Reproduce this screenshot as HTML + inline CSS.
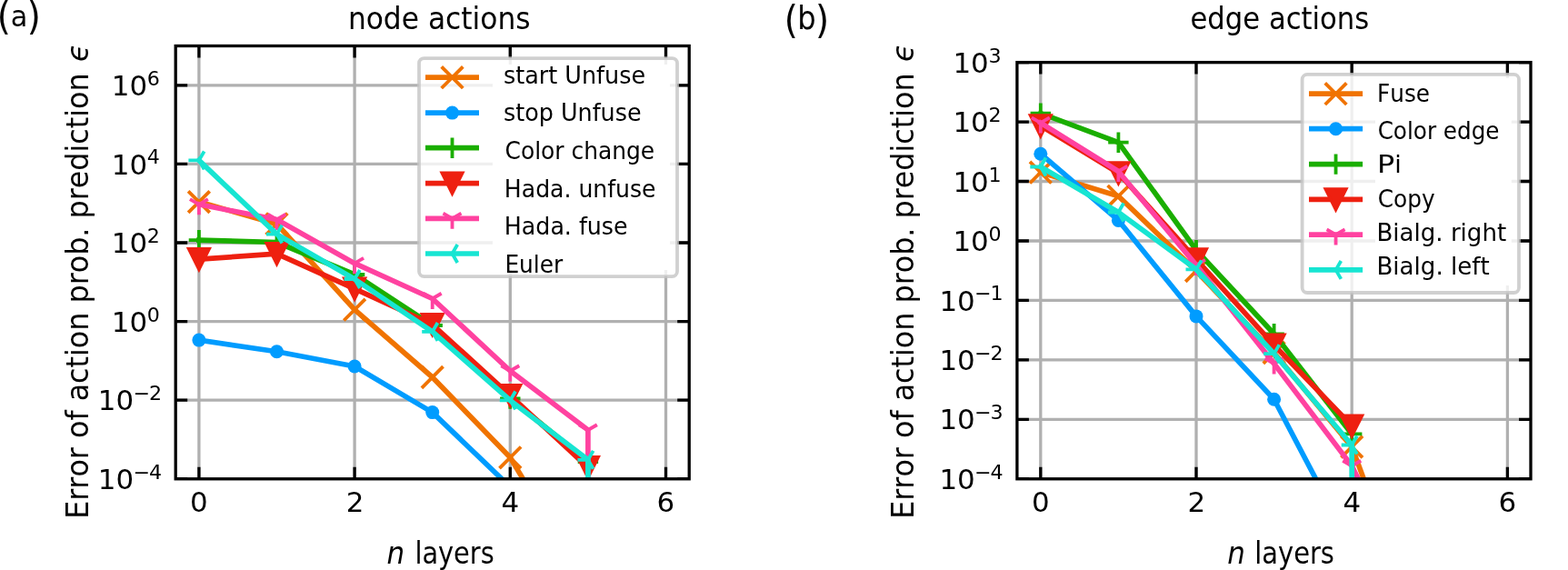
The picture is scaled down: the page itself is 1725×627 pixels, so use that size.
<!DOCTYPE html><html><head><meta charset="utf-8"><title>node and edge actions</title><style>html,body{margin:0;padding:0;background:#fff;overflow:hidden}svg{display:block}text{font-family:"DejaVu Sans","Liberation Sans",sans-serif;font-stretch:condensed;font-kerning:none;fill:#000}</style></head><body>
<svg width="1725" height="627" viewBox="0 0 1725 627">
<rect width="1725" height="627" fill="#fff"/>
<clipPath id="clipA"><rect x="193.2" y="50.5" width="565" height="476.3"/></clipPath>
<g clip-path="url(#clipA)"><path d="M218.9 50.5V526.8M390.1 50.5V526.8M561.3 50.5V526.8M732.5 50.5V526.8M193.2 93.8H758.2M193.2 180.4H758.2M193.2 267H758.2M193.2 353.6H758.2M193.2 440.2H758.2M193.2 526.8H758.2" stroke="#b0b0b0" stroke-width="3.3" fill="none"/>
<path d="M218.9 526.8V513.8M218.9 50.5V63.5M390.1 526.8V513.8M390.1 50.5V63.5M561.3 526.8V513.8M561.3 50.5V63.5M732.5 526.8V513.8M732.5 50.5V63.5M193.2 93.8H206.2M758.2 93.8H745.2M193.2 180.4H206.2M758.2 180.4H745.2M193.2 267H206.2M758.2 267H745.2M193.2 353.6H206.2M758.2 353.6H745.2M193.2 440.2H206.2M758.2 440.2H745.2M193.2 526.8H206.2M758.2 526.8H745.2" stroke="#000" stroke-width="3.3" fill="none"/>
<polyline points="218.9,222.1 304.5,246.4 390.1,340.7 475.7,415 561.3,503.3 646.9,646" fill="none" stroke="#f07300" stroke-width="5.7" stroke-linejoin="round" stroke-linecap="square"/>
<path d="M207.1 210.3L230.7 233.9M207.1 233.9L230.7 210.3" stroke="#f07300" stroke-width="3.8" fill="none" stroke-linecap="butt"/>
<path d="M292.7 234.6L316.3 258.2M292.7 258.2L316.3 234.6" stroke="#f07300" stroke-width="3.8" fill="none" stroke-linecap="butt"/>
<path d="M378.3 328.9L401.9 352.5M378.3 352.5L401.9 328.9" stroke="#f07300" stroke-width="3.8" fill="none" stroke-linecap="butt"/>
<path d="M463.9 403.2L487.5 426.8M463.9 426.8L487.5 403.2" stroke="#f07300" stroke-width="3.8" fill="none" stroke-linecap="butt"/>
<path d="M549.5 491.5L573.1 515.1M549.5 515.1L573.1 491.5" stroke="#f07300" stroke-width="3.8" fill="none" stroke-linecap="butt"/>
<polyline points="218.9,374.1 304.5,386.7 390.1,403 475.7,453.6 561.3,535.7" fill="none" stroke="#009cff" stroke-width="5.7" stroke-linejoin="round" stroke-linecap="square"/>
<circle cx="218.9" cy="374.1" r="7.5" fill="#009cff"/>
<circle cx="304.5" cy="386.7" r="7.5" fill="#009cff"/>
<circle cx="390.1" cy="403" r="7.5" fill="#009cff"/>
<circle cx="475.7" cy="453.6" r="7.5" fill="#009cff"/>
<polyline points="218.9,264.2 304.5,266.5 390.1,302 475.7,358 561.3,438.5 646.9,508" fill="none" stroke="#1aae00" stroke-width="5.7" stroke-linejoin="round" stroke-linecap="square"/>
<path d="M207.7 264.2L230.1 264.2M218.9 253L218.9 275.4" stroke="#1aae00" stroke-width="3.8" fill="none" stroke-linecap="butt"/>
<path d="M293.3 266.5L315.7 266.5M304.5 255.3L304.5 277.7" stroke="#1aae00" stroke-width="3.8" fill="none" stroke-linecap="butt"/>
<path d="M378.9 302L401.3 302M390.1 290.8L390.1 313.2" stroke="#1aae00" stroke-width="3.8" fill="none" stroke-linecap="butt"/>
<path d="M464.5 358L486.9 358M475.7 346.8L475.7 369.2" stroke="#1aae00" stroke-width="3.8" fill="none" stroke-linecap="butt"/>
<path d="M550.1 438.5L572.5 438.5M561.3 427.3L561.3 449.7" stroke="#1aae00" stroke-width="3.8" fill="none" stroke-linecap="butt"/>
<path d="M635.7 508L658.1 508M646.9 496.8L646.9 519.2" stroke="#1aae00" stroke-width="3.8" fill="none" stroke-linecap="butt"/>
<polyline points="218.9,285.2 304.5,279.1 390.1,317.6 475.7,357 561.3,435 646.9,514.2" fill="none" stroke="#ee2010" stroke-width="5.7" stroke-linejoin="round" stroke-linecap="square"/>
<path d="M207.4 273.7L230.4 273.7L218.9 296.7Z" fill="#ee2010" stroke="#ee2010" stroke-width="3.2" stroke-linejoin="miter"/>
<path d="M293 267.6L316 267.6L304.5 290.6Z" fill="#ee2010" stroke="#ee2010" stroke-width="3.2" stroke-linejoin="miter"/>
<path d="M378.6 306.1L401.6 306.1L390.1 329.1Z" fill="#ee2010" stroke="#ee2010" stroke-width="3.2" stroke-linejoin="miter"/>
<path d="M464.2 345.5L487.2 345.5L475.7 368.5Z" fill="#ee2010" stroke="#ee2010" stroke-width="3.2" stroke-linejoin="miter"/>
<path d="M549.8 423.5L572.8 423.5L561.3 446.5Z" fill="#ee2010" stroke="#ee2010" stroke-width="3.2" stroke-linejoin="miter"/>
<path d="M635.4 502.7L658.4 502.7L646.9 525.7Z" fill="#ee2010" stroke="#ee2010" stroke-width="3.2" stroke-linejoin="miter"/>
<polyline points="218.9,224.8 304.5,241.5 390.1,289.7 475.7,328.5 561.3,408 646.9,473 646.9,2000" fill="none" stroke="#ff42a0" stroke-width="5.7" stroke-linejoin="round" stroke-linecap="square"/>
<path d="M218.9 224.8L218.9 236.3M218.9 224.8L208.94 219.05M218.9 224.8L228.86 219.05" stroke="#ff42a0" stroke-width="3.8" fill="none" stroke-linecap="butt"/>
<path d="M304.5 241.5L304.5 253M304.5 241.5L294.54 235.75M304.5 241.5L314.46 235.75" stroke="#ff42a0" stroke-width="3.8" fill="none" stroke-linecap="butt"/>
<path d="M390.1 289.7L390.1 301.2M390.1 289.7L380.14 283.95M390.1 289.7L400.06 283.95" stroke="#ff42a0" stroke-width="3.8" fill="none" stroke-linecap="butt"/>
<path d="M475.7 328.5L475.7 340M475.7 328.5L465.74 322.75M475.7 328.5L485.66 322.75" stroke="#ff42a0" stroke-width="3.8" fill="none" stroke-linecap="butt"/>
<path d="M561.3 408L561.3 419.5M561.3 408L551.34 402.25M561.3 408L571.26 402.25" stroke="#ff42a0" stroke-width="3.8" fill="none" stroke-linecap="butt"/>
<path d="M646.9 473L646.9 484.5M646.9 473L636.94 467.25M646.9 473L656.86 467.25" stroke="#ff42a0" stroke-width="3.8" fill="none" stroke-linecap="butt"/>
<polyline points="218.9,176.4 304.5,257.6 390.1,307 475.7,364.9 561.3,440.4 646.9,505.8 646.9,2000" fill="none" stroke="#17e5d2" stroke-width="5.7" stroke-linejoin="round" stroke-linecap="square"/>
<path d="M218.9 176.4L207.4 176.4M218.9 176.4L224.65 166.44M218.9 176.4L224.65 186.36" stroke="#17e5d2" stroke-width="3.8" fill="none" stroke-linecap="butt"/>
<path d="M304.5 257.6L293 257.6M304.5 257.6L310.25 247.64M304.5 257.6L310.25 267.56" stroke="#17e5d2" stroke-width="3.8" fill="none" stroke-linecap="butt"/>
<path d="M390.1 307L378.6 307M390.1 307L395.85 297.04M390.1 307L395.85 316.96" stroke="#17e5d2" stroke-width="3.8" fill="none" stroke-linecap="butt"/>
<path d="M475.7 364.9L464.2 364.9M475.7 364.9L481.45 354.94M475.7 364.9L481.45 374.86" stroke="#17e5d2" stroke-width="3.8" fill="none" stroke-linecap="butt"/>
<path d="M561.3 440.4L549.8 440.4M561.3 440.4L567.05 430.44M561.3 440.4L567.05 450.36" stroke="#17e5d2" stroke-width="3.8" fill="none" stroke-linecap="butt"/>
<path d="M646.9 505.8L635.4 505.8M646.9 505.8L652.65 495.84M646.9 505.8L652.65 515.76" stroke="#17e5d2" stroke-width="3.8" fill="none" stroke-linecap="butt"/>
</g>
<rect x="193.2" y="50.5" width="565" height="476.3" fill="none" stroke="#000" stroke-width="3.3" stroke-linejoin="miter"/>
<rect x="461" y="64.1" width="284" height="240" rx="5.5" ry="5.5" fill="#fff" fill-opacity="0.8"/>
<rect x="541.9" y="71" width="195.1" height="226" fill="#fff"/>
<rect x="461" y="64.1" width="284" height="240" rx="5.5" ry="5.5" fill="none" stroke="#c4c4c4" stroke-opacity="0.8" stroke-width="3.8"/>
<path d="M468 85.2H527" stroke="#f07300" stroke-width="5.7"/>
<path d="M485.7 73.4L509.3 97M485.7 97L509.3 73.4" stroke="#f07300" stroke-width="3.8" fill="none" stroke-linecap="butt"/>
<text x="554.09" y="91.6" font-size="27.2" textLength="155.99" lengthAdjust="spacingAndGlyphs">start Unfuse</text>
<path d="M468 124.1H527" stroke="#009cff" stroke-width="5.7"/>
<circle cx="497.5" cy="124.1" r="7.5" fill="#009cff"/>
<text x="554.09" y="133.1" font-size="27.2" textLength="151.53" lengthAdjust="spacingAndGlyphs">stop Unfuse</text>
<path d="M468 162.7H527" stroke="#1aae00" stroke-width="5.7"/>
<path d="M486.3 162.7L508.7 162.7M497.5 151.5L497.5 173.9" stroke="#1aae00" stroke-width="3.8" fill="none" stroke-linecap="butt"/>
<text x="555.52" y="174.5" font-size="27.2" textLength="164.69" lengthAdjust="spacingAndGlyphs">Color change</text>
<path d="M468 201.6H527" stroke="#ee2010" stroke-width="5.7"/>
<path d="M486 190.1L509 190.1L497.5 213.1Z" fill="#ee2010" stroke="#ee2010" stroke-width="3.2" stroke-linejoin="miter"/>
<text x="554.89" y="217.3" font-size="27.2" textLength="166.61" lengthAdjust="spacingAndGlyphs">Hada. unfuse</text>
<path d="M468 240.3H527" stroke="#ff42a0" stroke-width="5.7"/>
<path d="M497.5 240.3L497.5 251.8M497.5 240.3L487.54 234.55M497.5 240.3L507.46 234.55" stroke="#ff42a0" stroke-width="3.8" fill="none" stroke-linecap="butt"/>
<text x="554.87" y="258.4" font-size="27.2" textLength="135.66" lengthAdjust="spacingAndGlyphs">Hada. fuse</text>
<path d="M468 279H527" stroke="#17e5d2" stroke-width="5.7"/>
<path d="M497.5 279L486 279M497.5 279L503.25 269.04M497.5 279L503.25 288.96" stroke="#17e5d2" stroke-width="3.8" fill="none" stroke-linecap="butt"/>
<text x="555.41" y="299.8" font-size="27.2" textLength="63.84" lengthAdjust="spacingAndGlyphs">Euler</text>
<clipPath id="clipB"><rect x="1118.9" y="68.6" width="565.1" height="458.2"/></clipPath>
<g clip-path="url(#clipB)"><path d="M1144.8 68.6V526.8M1316 68.6V526.8M1487.2 68.6V526.8M1658.4 68.6V526.8M1118.9 68.6H1684M1118.9 134.06H1684M1118.9 199.52H1684M1118.9 264.98H1684M1118.9 330.44H1684M1118.9 395.9H1684M1118.9 461.36H1684M1118.9 526.82H1684" stroke="#b0b0b0" stroke-width="3.3" fill="none"/>
<path d="M1144.8 526.8V513.8M1144.8 68.6V81.6M1316 526.8V513.8M1316 68.6V81.6M1487.2 526.8V513.8M1487.2 68.6V81.6M1658.4 526.8V513.8M1658.4 68.6V81.6M1118.9 68.6H1131.9M1684 68.6H1671M1118.9 134.06H1131.9M1684 134.06H1671M1118.9 199.52H1131.9M1684 199.52H1671M1118.9 264.98H1131.9M1684 264.98H1671M1118.9 330.44H1131.9M1684 330.44H1671M1118.9 395.9H1131.9M1684 395.9H1671M1118.9 461.36H1131.9M1684 461.36H1671M1118.9 526.82H1131.9M1684 526.82H1671" stroke="#000" stroke-width="3.3" fill="none"/>
<polyline points="1144.8,189.7 1230.4,215.8 1316,298 1401.6,388 1487.2,491.5 1572.8,723" fill="none" stroke="#f07300" stroke-width="5.7" stroke-linejoin="round" stroke-linecap="square"/>
<path d="M1133 177.9L1156.6 201.5M1133 201.5L1156.6 177.9" stroke="#f07300" stroke-width="3.8" fill="none" stroke-linecap="butt"/>
<path d="M1218.6 204L1242.2 227.6M1218.6 227.6L1242.2 204" stroke="#f07300" stroke-width="3.8" fill="none" stroke-linecap="butt"/>
<path d="M1304.2 286.2L1327.8 309.8M1304.2 309.8L1327.8 286.2" stroke="#f07300" stroke-width="3.8" fill="none" stroke-linecap="butt"/>
<path d="M1389.8 376.2L1413.4 399.8M1389.8 399.8L1413.4 376.2" stroke="#f07300" stroke-width="3.8" fill="none" stroke-linecap="butt"/>
<path d="M1475.4 479.7L1499 503.3M1475.4 503.3L1499 479.7" stroke="#f07300" stroke-width="3.8" fill="none" stroke-linecap="butt"/>
<polyline points="1144.8,169.2 1230.4,242.4 1316,347.9 1401.6,439.2 1487.2,602.3" fill="none" stroke="#009cff" stroke-width="5.7" stroke-linejoin="round" stroke-linecap="square"/>
<circle cx="1144.8" cy="169.2" r="7.5" fill="#009cff"/>
<circle cx="1230.4" cy="242.4" r="7.5" fill="#009cff"/>
<circle cx="1316" cy="347.9" r="7.5" fill="#009cff"/>
<circle cx="1401.6" cy="439.2" r="7.5" fill="#009cff"/>
<polyline points="1144.8,124.7 1230.4,156.7 1316,275.1 1401.6,367.3 1487.2,477.4" fill="none" stroke="#1aae00" stroke-width="5.7" stroke-linejoin="round" stroke-linecap="square"/>
<path d="M1133.6 124.7L1156 124.7M1144.8 113.5L1144.8 135.9" stroke="#1aae00" stroke-width="3.8" fill="none" stroke-linecap="butt"/>
<path d="M1219.2 156.7L1241.6 156.7M1230.4 145.5L1230.4 167.9" stroke="#1aae00" stroke-width="3.8" fill="none" stroke-linecap="butt"/>
<path d="M1304.8 275.1L1327.2 275.1M1316 263.9L1316 286.3" stroke="#1aae00" stroke-width="3.8" fill="none" stroke-linecap="butt"/>
<path d="M1390.4 367.3L1412.8 367.3M1401.6 356.1L1401.6 378.5" stroke="#1aae00" stroke-width="3.8" fill="none" stroke-linecap="butt"/>
<path d="M1476 477.4L1498.4 477.4M1487.2 466.2L1487.2 488.6" stroke="#1aae00" stroke-width="3.8" fill="none" stroke-linecap="butt"/>
<polyline points="1144.8,138.4 1230.4,190.3 1316,285.3 1401.6,379.6 1487.2,468.5" fill="none" stroke="#ee2010" stroke-width="5.7" stroke-linejoin="round" stroke-linecap="square"/>
<path d="M1133.3 126.9L1156.3 126.9L1144.8 149.9Z" fill="#ee2010" stroke="#ee2010" stroke-width="3.2" stroke-linejoin="miter"/>
<path d="M1218.9 178.8L1241.9 178.8L1230.4 201.8Z" fill="#ee2010" stroke="#ee2010" stroke-width="3.2" stroke-linejoin="miter"/>
<path d="M1304.5 273.8L1327.5 273.8L1316 296.8Z" fill="#ee2010" stroke="#ee2010" stroke-width="3.2" stroke-linejoin="miter"/>
<path d="M1390.1 368.1L1413.1 368.1L1401.6 391.1Z" fill="#ee2010" stroke="#ee2010" stroke-width="3.2" stroke-linejoin="miter"/>
<path d="M1475.7 457L1498.7 457L1487.2 480Z" fill="#ee2010" stroke="#ee2010" stroke-width="3.2" stroke-linejoin="miter"/>
<polyline points="1144.8,135.1 1230.4,188.5 1316,291.6 1401.6,400 1487.2,512.5 1572.8,686" fill="none" stroke="#ff42a0" stroke-width="5.7" stroke-linejoin="round" stroke-linecap="square"/>
<path d="M1144.8 135.1L1144.8 146.6M1144.8 135.1L1134.84 129.35M1144.8 135.1L1154.76 129.35" stroke="#ff42a0" stroke-width="3.8" fill="none" stroke-linecap="butt"/>
<path d="M1230.4 188.5L1230.4 200M1230.4 188.5L1220.44 182.75M1230.4 188.5L1240.36 182.75" stroke="#ff42a0" stroke-width="3.8" fill="none" stroke-linecap="butt"/>
<path d="M1316 291.6L1316 303.1M1316 291.6L1306.04 285.85M1316 291.6L1325.96 285.85" stroke="#ff42a0" stroke-width="3.8" fill="none" stroke-linecap="butt"/>
<path d="M1401.6 400L1401.6 411.5M1401.6 400L1391.64 394.25M1401.6 400L1411.56 394.25" stroke="#ff42a0" stroke-width="3.8" fill="none" stroke-linecap="butt"/>
<path d="M1487.2 512.5L1487.2 524M1487.2 512.5L1477.24 506.75M1487.2 512.5L1497.16 506.75" stroke="#ff42a0" stroke-width="3.8" fill="none" stroke-linecap="butt"/>
<polyline points="1144.8,183.5 1230.4,233.5 1316,296.3 1401.6,389.1 1487.2,489.5 1487.2,2000" fill="none" stroke="#17e5d2" stroke-width="5.7" stroke-linejoin="round" stroke-linecap="square"/>
<path d="M1144.8 183.5L1133.3 183.5M1144.8 183.5L1150.55 173.54M1144.8 183.5L1150.55 193.46" stroke="#17e5d2" stroke-width="3.8" fill="none" stroke-linecap="butt"/>
<path d="M1230.4 233.5L1218.9 233.5M1230.4 233.5L1236.15 223.54M1230.4 233.5L1236.15 243.46" stroke="#17e5d2" stroke-width="3.8" fill="none" stroke-linecap="butt"/>
<path d="M1316 296.3L1304.5 296.3M1316 296.3L1321.75 286.34M1316 296.3L1321.75 306.26" stroke="#17e5d2" stroke-width="3.8" fill="none" stroke-linecap="butt"/>
<path d="M1401.6 389.1L1390.1 389.1M1401.6 389.1L1407.35 379.14M1401.6 389.1L1407.35 399.06" stroke="#17e5d2" stroke-width="3.8" fill="none" stroke-linecap="butt"/>
<path d="M1487.2 489.5L1475.7 489.5M1487.2 489.5L1492.95 479.54M1487.2 489.5L1492.95 499.46" stroke="#17e5d2" stroke-width="3.8" fill="none" stroke-linecap="butt"/>
</g>
<rect x="1118.9" y="68.6" width="565.1" height="458.2" fill="none" stroke="#000" stroke-width="3.3" stroke-linejoin="miter"/>
<rect x="1432.6" y="81.9" width="238.4" height="240.1" rx="5.5" ry="5.5" fill="#fff" fill-opacity="0.8"/>
<rect x="1513" y="86" width="149.8" height="228" fill="#fff"/>
<rect x="1432.6" y="81.9" width="238.4" height="240.1" rx="5.5" ry="5.5" fill="none" stroke="#c4c4c4" stroke-opacity="0.8" stroke-width="3.8"/>
<path d="M1440 103.2H1499.1" stroke="#f07300" stroke-width="5.7"/>
<path d="M1457.75 91.4L1481.35 115M1457.75 115L1481.35 91.4" stroke="#f07300" stroke-width="3.8" fill="none" stroke-linecap="butt"/>
<text x="1515.06" y="112.1" font-size="27.2" textLength="57.97" lengthAdjust="spacingAndGlyphs">Fuse</text>
<path d="M1440 141.7H1499.1" stroke="#009cff" stroke-width="5.7"/>
<circle cx="1469.55" cy="141.7" r="7.5" fill="#009cff"/>
<text x="1515.63" y="152.8" font-size="27.2" textLength="133.93" lengthAdjust="spacingAndGlyphs">Color edge</text>
<path d="M1440 180.6H1499.1" stroke="#1aae00" stroke-width="5.7"/>
<path d="M1458.35 180.6L1480.75 180.6M1469.55 169.4L1469.55 191.8" stroke="#1aae00" stroke-width="3.8" fill="none" stroke-linecap="butt"/>
<text x="1514.91" y="190.4" font-size="27.2" textLength="19.25" lengthAdjust="spacingAndGlyphs">P</text>
<text x="1534.25" y="190.4" font-size="27.2" textLength="7.5" lengthAdjust="spacingAndGlyphs">i</text>
<path d="M1440 219.4H1499.1" stroke="#ee2010" stroke-width="5.7"/>
<path d="M1458.05 207.9L1481.05 207.9L1469.55 230.9Z" fill="#ee2010" stroke="#ee2010" stroke-width="3.2" stroke-linejoin="miter"/>
<text x="1515.72" y="227.6" font-size="27.2" textLength="62.83" lengthAdjust="spacingAndGlyphs">Copy</text>
<path d="M1440 258.1H1499.1" stroke="#ff42a0" stroke-width="5.7"/>
<path d="M1469.55 258.1L1469.55 269.6M1469.55 258.1L1459.59 252.35M1469.55 258.1L1479.51 252.35" stroke="#ff42a0" stroke-width="3.8" fill="none" stroke-linecap="butt"/>
<text x="1514.49" y="264.6" font-size="27.2" textLength="142.63" lengthAdjust="spacingAndGlyphs">Bialg. right</text>
<path d="M1440 296.9H1499.1" stroke="#17e5d2" stroke-width="5.7"/>
<path d="M1469.55 296.9L1458.05 296.9M1469.55 296.9L1475.3 286.94M1469.55 296.9L1475.3 306.86" stroke="#17e5d2" stroke-width="3.8" fill="none" stroke-linecap="butt"/>
<text x="1514.48" y="301.6" font-size="27.2" textLength="124.24" lengthAdjust="spacingAndGlyphs">Bialg. left</text>
<text x="122.8" y="104.9" font-size="30" textLength="39.31" lengthAdjust="spacingAndGlyphs">10</text>
<text x="161.8" y="93.8" font-size="21.5" textLength="14.09" lengthAdjust="spacingAndGlyphs">6</text>
<text x="122.8" y="191.5" font-size="30" textLength="39.31" lengthAdjust="spacingAndGlyphs">10</text>
<text x="161.8" y="180.4" font-size="21.5" textLength="14.09" lengthAdjust="spacingAndGlyphs">4</text>
<text x="122.8" y="278.1" font-size="30" textLength="39.31" lengthAdjust="spacingAndGlyphs">10</text>
<text x="161.8" y="267" font-size="21.5" textLength="14.09" lengthAdjust="spacingAndGlyphs">2</text>
<text x="122.8" y="364.7" font-size="30" textLength="39.31" lengthAdjust="spacingAndGlyphs">10</text>
<text x="161.8" y="353.6" font-size="21.5" textLength="14.09" lengthAdjust="spacingAndGlyphs">0</text>
<text x="107.8" y="451.3" font-size="30" textLength="39.31" lengthAdjust="spacingAndGlyphs">10</text>
<text x="146.5" y="440.2" font-size="21.5" textLength="18.56" lengthAdjust="spacingAndGlyphs">−</text>
<text x="164" y="440.2" font-size="21.5" textLength="14.09" lengthAdjust="spacingAndGlyphs">2</text>
<text x="107.8" y="537.9" font-size="30" textLength="39.31" lengthAdjust="spacingAndGlyphs">10</text>
<text x="146.5" y="526.8" font-size="21.5" textLength="18.56" lengthAdjust="spacingAndGlyphs">−</text>
<text x="164" y="526.8" font-size="21.5" textLength="14.09" lengthAdjust="spacingAndGlyphs">4</text>
<text x="1048.4" y="79.7" font-size="30" textLength="39.31" lengthAdjust="spacingAndGlyphs">10</text>
<text x="1087.4" y="68.6" font-size="21.5" textLength="14.09" lengthAdjust="spacingAndGlyphs">3</text>
<text x="1048.4" y="145.16" font-size="30" textLength="39.31" lengthAdjust="spacingAndGlyphs">10</text>
<text x="1087.4" y="134.06" font-size="21.5" textLength="14.09" lengthAdjust="spacingAndGlyphs">2</text>
<text x="1048.4" y="210.62" font-size="30" textLength="39.31" lengthAdjust="spacingAndGlyphs">10</text>
<text x="1087.4" y="199.52" font-size="21.5" textLength="14.09" lengthAdjust="spacingAndGlyphs">1</text>
<text x="1048.4" y="276.08" font-size="30" textLength="39.31" lengthAdjust="spacingAndGlyphs">10</text>
<text x="1087.4" y="264.98" font-size="21.5" textLength="14.09" lengthAdjust="spacingAndGlyphs">0</text>
<text x="1033.4" y="341.54" font-size="30" textLength="39.31" lengthAdjust="spacingAndGlyphs">10</text>
<text x="1072.1" y="330.44" font-size="21.5" textLength="18.56" lengthAdjust="spacingAndGlyphs">−</text>
<text x="1089.6" y="330.44" font-size="21.5" textLength="14.09" lengthAdjust="spacingAndGlyphs">1</text>
<text x="1033.4" y="407" font-size="30" textLength="39.31" lengthAdjust="spacingAndGlyphs">10</text>
<text x="1072.1" y="395.9" font-size="21.5" textLength="18.56" lengthAdjust="spacingAndGlyphs">−</text>
<text x="1089.6" y="395.9" font-size="21.5" textLength="14.09" lengthAdjust="spacingAndGlyphs">2</text>
<text x="1033.4" y="472.46" font-size="30" textLength="39.31" lengthAdjust="spacingAndGlyphs">10</text>
<text x="1072.1" y="461.36" font-size="21.5" textLength="18.56" lengthAdjust="spacingAndGlyphs">−</text>
<text x="1089.6" y="461.36" font-size="21.5" textLength="14.09" lengthAdjust="spacingAndGlyphs">3</text>
<text x="1033.4" y="537.92" font-size="30" textLength="39.31" lengthAdjust="spacingAndGlyphs">10</text>
<text x="1072.1" y="526.82" font-size="21.5" textLength="18.56" lengthAdjust="spacingAndGlyphs">−</text>
<text x="1089.6" y="526.82" font-size="21.5" textLength="14.09" lengthAdjust="spacingAndGlyphs">4</text>
<text x="209.02" y="563.4" font-size="30" textLength="19.66" lengthAdjust="spacingAndGlyphs">0</text>
<text x="380.65" y="563.4" font-size="30" textLength="19.66" lengthAdjust="spacingAndGlyphs">2</text>
<text x="551.6" y="563.4" font-size="30" textLength="19.66" lengthAdjust="spacingAndGlyphs">4</text>
<text x="722.62" y="563.4" font-size="30" textLength="19.66" lengthAdjust="spacingAndGlyphs">6</text>
<text x="1134.92" y="563.4" font-size="30" textLength="19.66" lengthAdjust="spacingAndGlyphs">0</text>
<text x="1306.55" y="563.4" font-size="30" textLength="19.66" lengthAdjust="spacingAndGlyphs">2</text>
<text x="1477.5" y="563.4" font-size="30" textLength="19.66" lengthAdjust="spacingAndGlyphs">4</text>
<text x="1648.52" y="563.4" font-size="30" textLength="19.66" lengthAdjust="spacingAndGlyphs">6</text>
<text x="382.92" y="32" font-size="34.3" textLength="200.62" lengthAdjust="spacingAndGlyphs">node actions</text>
<text x="1309.5" y="31.6" font-size="34.3" textLength="196.69" lengthAdjust="spacingAndGlyphs">edge actions</text>
<text x="-3.18" y="32.8" font-size="43" textLength="15.1" lengthAdjust="spacingAndGlyphs">(</text>
<text x="11.74" y="28.5" font-size="32" textLength="18.6" lengthAdjust="spacingAndGlyphs">a</text>
<text x="29.68" y="32.8" font-size="43" textLength="15.1" lengthAdjust="spacingAndGlyphs">)</text>
<text x="862.82" y="36.9" font-size="43" textLength="15.1" lengthAdjust="spacingAndGlyphs">(</text>
<text x="877.15" y="32.3" font-size="35" textLength="20.39" lengthAdjust="spacingAndGlyphs">b</text>
<text x="897.08" y="36.9" font-size="43" textLength="15.1" lengthAdjust="spacingAndGlyphs">)</text>
<text x="425.47" y="619.6" font-size="34" textLength="19.6" lengthAdjust="spacingAndGlyphs" font-style="italic">n</text>
<text x="456.38" y="619.6" font-size="34" textLength="87.28" lengthAdjust="spacingAndGlyphs">layers</text>
<text x="1350.27" y="619.6" font-size="34" textLength="19.6" lengthAdjust="spacingAndGlyphs" font-style="italic">n</text>
<text x="1380.26" y="619.6" font-size="34" textLength="87.7" lengthAdjust="spacingAndGlyphs">layers</text>
<text transform="translate(96.9 570.8) rotate(-90)" x="0" y="0" font-size="34.5" textLength="490.44" lengthAdjust="spacingAndGlyphs">Error of action prob. prediction</text>
<text transform="translate(96.9 68.04) rotate(-90)" x="0" y="0" font-size="33" textLength="19.88" lengthAdjust="spacingAndGlyphs" font-style="italic">ϵ</text>
<text transform="translate(1005.4 570.8) rotate(-90)" x="0" y="0" font-size="34.5" textLength="490.44" lengthAdjust="spacingAndGlyphs">Error of action prob. prediction</text>
<text transform="translate(1005.4 68.04) rotate(-90)" x="0" y="0" font-size="33" textLength="19.88" lengthAdjust="spacingAndGlyphs" font-style="italic">ϵ</text>
</svg></body></html>
